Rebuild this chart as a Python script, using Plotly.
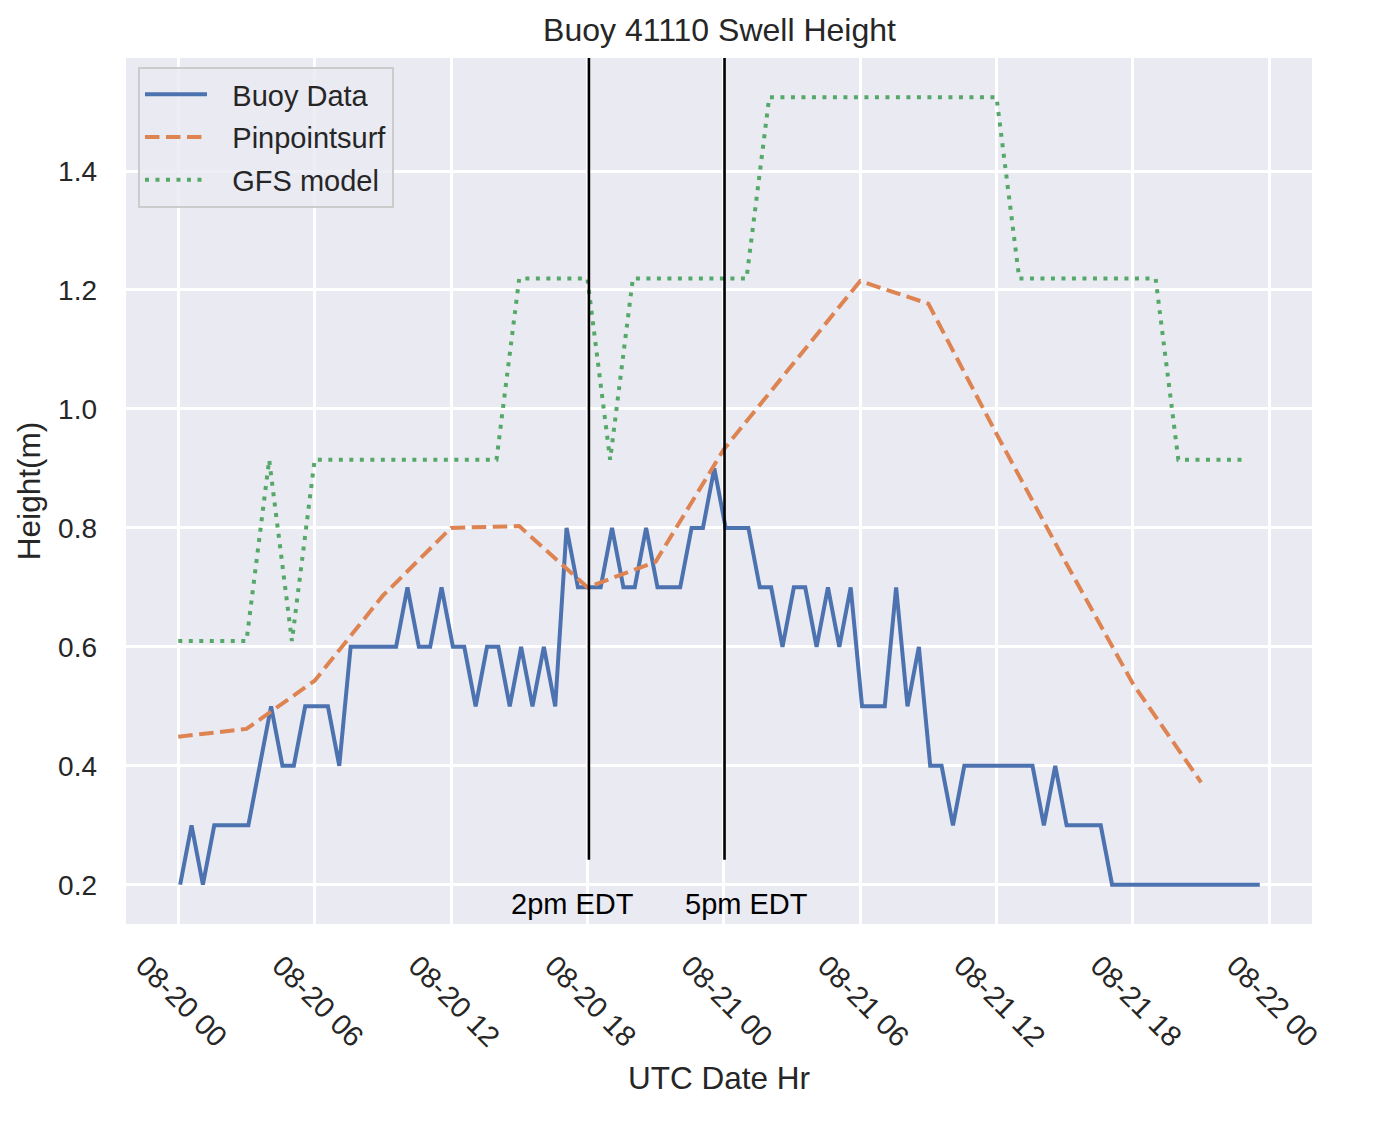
import pandas as pd
import plotly.graph_objects as go

# ---------------- data ----------------
day0 = pd.Timestamp("2020-08-20 00:00")

# Buoy 41110 observations, every 30 minutes starting 00:05 UTC on 08-20
buoy_start = "2020-08-20 00:05"
buoy_height = [
    0.2, 0.3, 0.2, 0.3, 0.3, 0.3, 0.3, 0.4, 0.5, 0.4,
    0.4, 0.5, 0.5, 0.5, 0.4, 0.6, 0.6, 0.6, 0.6, 0.6,
    0.7, 0.6, 0.6, 0.7, 0.6, 0.6, 0.5, 0.6, 0.6, 0.5,
    0.6, 0.5, 0.6, 0.5, 0.8, 0.7, 0.7, 0.7, 0.8, 0.7,
    0.7, 0.8, 0.7, 0.7, 0.7, 0.8, 0.8, 0.9, 0.8, 0.8,
    0.8, 0.7, 0.7, 0.6, 0.7, 0.7, 0.6, 0.7, 0.6, 0.7,
    0.5, 0.5, 0.5, 0.7, 0.5, 0.6, 0.4, 0.4, 0.3, 0.4,
    0.4, 0.4, 0.4, 0.4, 0.4, 0.4, 0.3, 0.4, 0.3, 0.3,
    0.3, 0.3, 0.2, 0.2, 0.2, 0.2, 0.2, 0.2, 0.2, 0.2,
    0.2, 0.2, 0.2, 0.2, 0.2, 0.2,
]

# Pinpointsurf forecast, 3-hourly (hours after 08-20 00 UTC)
pps_hours = [0, 3, 6, 9, 12, 15, 18, 21, 24, 27, 30, 33, 36, 39, 42, 45]
pps_height = [0.449, 0.462, 0.543, 0.686, 0.800, 0.803, 0.700, 0.743,
              0.932, 1.074, 1.215, 1.177, 0.958, 0.745, 0.538, 0.372]

# GFS model, hourly (hours after 08-20 00 UTC)
gfs_hours = list(range(48))
gfs_height = (
    [0.6096] * 4 + [0.9144] + [0.6096] + [0.9144] * 9
    + [1.2192] * 4 + [0.9144] + [1.2192] * 6
    + [1.524] * 11 + [1.2192] * 7 + [0.9144] * 4
)

# Local-time reference lines
marker_times = ["2020-08-20 18:04", "2020-08-21 00:02"]
marker_labels = ["2pm EDT", "5pm EDT"]

series_names = ["Buoy Data", "Pinpointsurf", "GFS model"]

y_tick_vals = [0.2, 0.4, 0.6, 0.8, 1.0, 1.2, 1.4]
y_tick_text = ["0.2", "0.4", "0.6", "0.8", "1.0", "1.2", "1.4"]

# ---------------- derived ----------------
buoy_time = pd.date_range(buoy_start, periods=len(buoy_height), freq="30min")
pps_time = [day0 + pd.Timedelta(hours=h) for h in pps_hours]
gfs_time = [day0 + pd.Timedelta(hours=h) for h in gfs_hours]

BLUE, ORANGE, GREEN = "#4C72B0", "#DD8452", "#55A868"
FONT = "Liberation Sans, Arial, Helvetica, sans-serif"
TXT = "#262626"
GAP = "\u2002\u2009"  # small gap between legend sample and label

fig = go.Figure()
fig.add_trace(go.Scatter(x=buoy_time, y=buoy_height, mode="lines", name=GAP + series_names[0],
                         line=dict(color=BLUE, width=4), legendgroup="a"))
fig.add_trace(go.Scatter(x=pps_time, y=pps_height, mode="lines", name=GAP + series_names[1],
                         line=dict(color=ORANGE, width=4, dash="14.5px,6.5px"), legendgroup="b"))
fig.add_trace(go.Scatter(x=gfs_time, y=gfs_height, mode="lines", name=GAP + series_names[2],
                         line=dict(color=GREEN, width=4, dash="4px,6.5px"), legendgroup="c"))

for t in marker_times:
    ts = pd.Timestamp(t)
    fig.add_trace(go.Scatter(x=[ts, ts], y=[0.242, 1.60], mode="lines",
                             line=dict(color="black", width=2.6),
                             showlegend=False, hoverinfo="skip"))

label_x = [day0 + pd.Timedelta(hours=17.35), day0 + pd.Timedelta(hours=25.0)]
for lx, txt in zip(label_x, marker_labels):
    fig.add_annotation(x=lx, y=0.168, xref="x", yref="y", text=txt, showarrow=False,
                       xanchor="center", yanchor="middle",
                       font=dict(family=FONT, size=29, color="black"))

x_range = [day0 - pd.Timedelta(hours=2.30), day0 + pd.Timedelta(hours=49.88)]

fig.update_layout(
    width=1388, height=1114,
    margin=dict(l=118, r=84, t=50, b=198, pad=0),
    paper_bgcolor="white", plot_bgcolor="#EAEAF2",
    font=dict(family=FONT, color=TXT),
    title=dict(text="Buoy 41110 Swell Height", x=0.5126, xanchor="center",
               y=1 - 22 / 1114, yanchor="middle", yref="container",
               font=dict(family=FONT, size=32, color=TXT)),
    showlegend=True,
    legend=dict(x=0.0101, y=0.9896, xanchor="left", yanchor="top",
                bgcolor="rgba(234,234,242,0.8)", bordercolor="#CCCCCC", borderwidth=2,
                font=dict(family=FONT, size=29, color=TXT),
                traceorder="grouped", tracegroupgap=2, itemwidth=62),
    xaxis=dict(type="date", range=x_range, tick0=day0, dtick=6 * 3600 * 1000,
               tickformat="%m-%d %H", tickangle=45,
               showgrid=True, gridcolor="white", gridwidth=2.6,
               zeroline=False, showline=False, ticks="",
               tickfont=dict(family=FONT, size=29, color=TXT),
               ticklabelshift=-34, ticklabelstandoff=18,
               title=dict(text="UTC Date Hr", standoff=14,
                          font=dict(family=FONT, size=31.5, color=TXT))),
    yaxis=dict(range=[0.134, 1.59], tickvals=y_tick_vals, ticktext=y_tick_text,
               showgrid=True, gridcolor="white", gridwidth=2.6,
               zeroline=False, showline=False, ticks="",
               tickfont=dict(family=FONT, size=28, color=TXT),
               ticklabelstandoff=28,
               title=dict(text="Height(m)", standoff=8,
                          font=dict(family=FONT, size=31.5, color=TXT))),
)

fig.write_html("out.html")
